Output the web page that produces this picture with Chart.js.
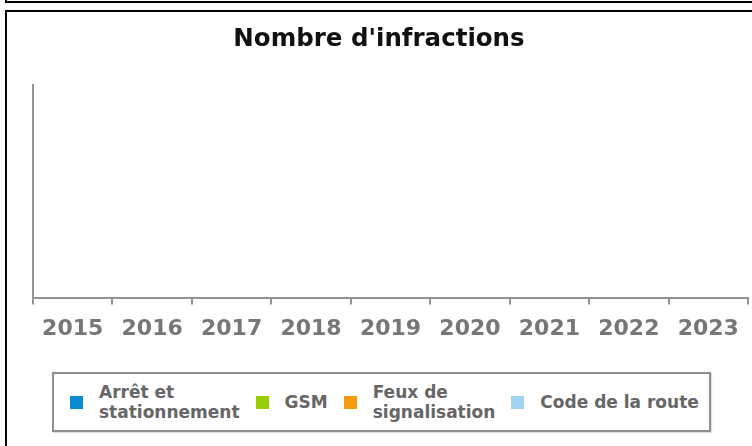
<!DOCTYPE html>
<html lang="fr">
<head>
<meta charset="utf-8">
<title>Nombre d'infractions</title>
<script src="https://cdn.jsdelivr.net/npm/chart.js@4.4.1/dist/chart.umd.min.js"></script>
<style>
  html, body { margin: 0; padding: 0; background: #fff; overflow: hidden; }
  body { width: 752px; height: 446px; position: relative; font-family: 'DejaVu Sans', sans-serif; }
  /* bottom edge of the panel above, and the frame of this one */
  .prev-box { position: absolute; left: 5px; top: -5px; width: 800px; height: 6px; border-left: 2px solid #000; border-bottom: 2px solid #000; }
  .box { position: absolute; left: 5px; top: 10px; width: 800px; height: 500px; border-left: 2px solid #000; border-top: 2px solid #000; }
  .chart-wrap { position: absolute; left: 7px; top: 12px; width: 745px; height: 346px; }
  #legend {
    position: absolute; left: 52px; top: 372px; height: 56px;
    display: inline-flex; align-items: center;
    padding: 0 10px 0 16px;
    border: 2px solid #8e8e8e;
    box-shadow: 1px 1px 1px rgba(0,0,0,0.12);
    font: bold 17px 'DejaVu Sans', sans-serif; color: #666;
  }
  #legend .item { display: flex; align-items: center; margin-right: 16px; }
  #legend .item:last-child { margin-right: 0; }
  #legend .swatch { width: 13px; height: 13px; margin-right: 16px; flex: none; }
  #legend .txt { line-height: 20px; white-space: pre-line; }
</style>
</head>
<body>
<div class="prev-box"></div>
<div class="box"></div>
<div class="chart-wrap"><canvas id="chart"></canvas></div>
<div id="legend"></div>

<script>
  // Categories
  const years = ['2015', '2016', '2017', '2018', '2019', '2020', '2021', '2022', '2023'];

  // Series (no values shown in the source chart)
  const arretStationnement = [null, null, null, null, null, null, null, null, null];
  const gsm                = [null, null, null, null, null, null, null, null, null];
  const feuxSignalisation  = [null, null, null, null, null, null, null, null, null];
  const codeRoute          = [null, null, null, null, null, null, null, null, null];

  // Series names
  const seriesLabels = ['Arrêt et\nstationnement', 'GSM', 'Feux de\nsignalisation', 'Code de la route'];

  // Palette
  const BLUE   = '#0c8ad3';
  const GREEN  = '#9acd06';
  const ORANGE = '#f59d0e';
  const SKY    = '#a2d2f0';
  const AXIS   = '#939393';

  const ctx = document.getElementById('chart');

  const chart = new Chart(ctx, {
    type: 'bar',
    data: {
      labels: years,
      datasets: [
        { label: seriesLabels[0], data: arretStationnement, backgroundColor: BLUE },
        { label: seriesLabels[1], data: gsm, backgroundColor: GREEN },
        { label: seriesLabels[2], data: feuxSignalisation, backgroundColor: ORANGE },
        { label: seriesLabels[3], data: codeRoute, backgroundColor: SKY },
      ],
    },
    options: {
      responsive: true,
      maintainAspectRatio: false,
      animation: false,
      layout: { padding: { left: 3, right: 4, top: 0, bottom: 5 } },
      plugins: {
        legend: { display: false },
        tooltip: { enabled: false },
        title: {
          display: true,
          text: "Nombre d'infractions",
          color: '#111',
          font: { family: "'DejaVu Sans', sans-serif", weight: 'bold', size: 24.5 },
          padding: { top: 13, bottom: 30.5 },
        },
      },
      scales: {
        x: {
          grid: {
            display: true,
            drawOnChartArea: false,
            tickLength: 7,
            color: AXIS,
            lineWidth: 2,
          },
          border: { display: true, color: AXIS, width: 2 },
          ticks: {
            color: '#777',
            font: { family: "'DejaVu Sans', sans-serif", weight: 'bold', size: 22 },
            padding: 11,
            maxRotation: 0,
            autoSkip: false,
          },
        },
        y: {
          beginAtZero: true,
          grid: { display: false },
          ticks: { display: false },
          border: { display: true, color: AXIS, width: 2 },
          // empty gutter left of the axis line
          afterFit: scale => { scale.width = 23; },
        },
      },
    },
  });

  // Boxed legend built from the datasets
  const legendEl = document.getElementById('legend');
  chart.data.datasets.forEach(ds => {
    const item = document.createElement('div');
    item.className = 'item';
    const sw = document.createElement('span');
    sw.className = 'swatch';
    sw.style.background = ds.backgroundColor;
    const txt = document.createElement('span');
    txt.className = 'txt';
    txt.textContent = ds.label;
    item.appendChild(sw);
    item.appendChild(txt);
    legendEl.appendChild(item);
  });
</script>
</body>
</html>
